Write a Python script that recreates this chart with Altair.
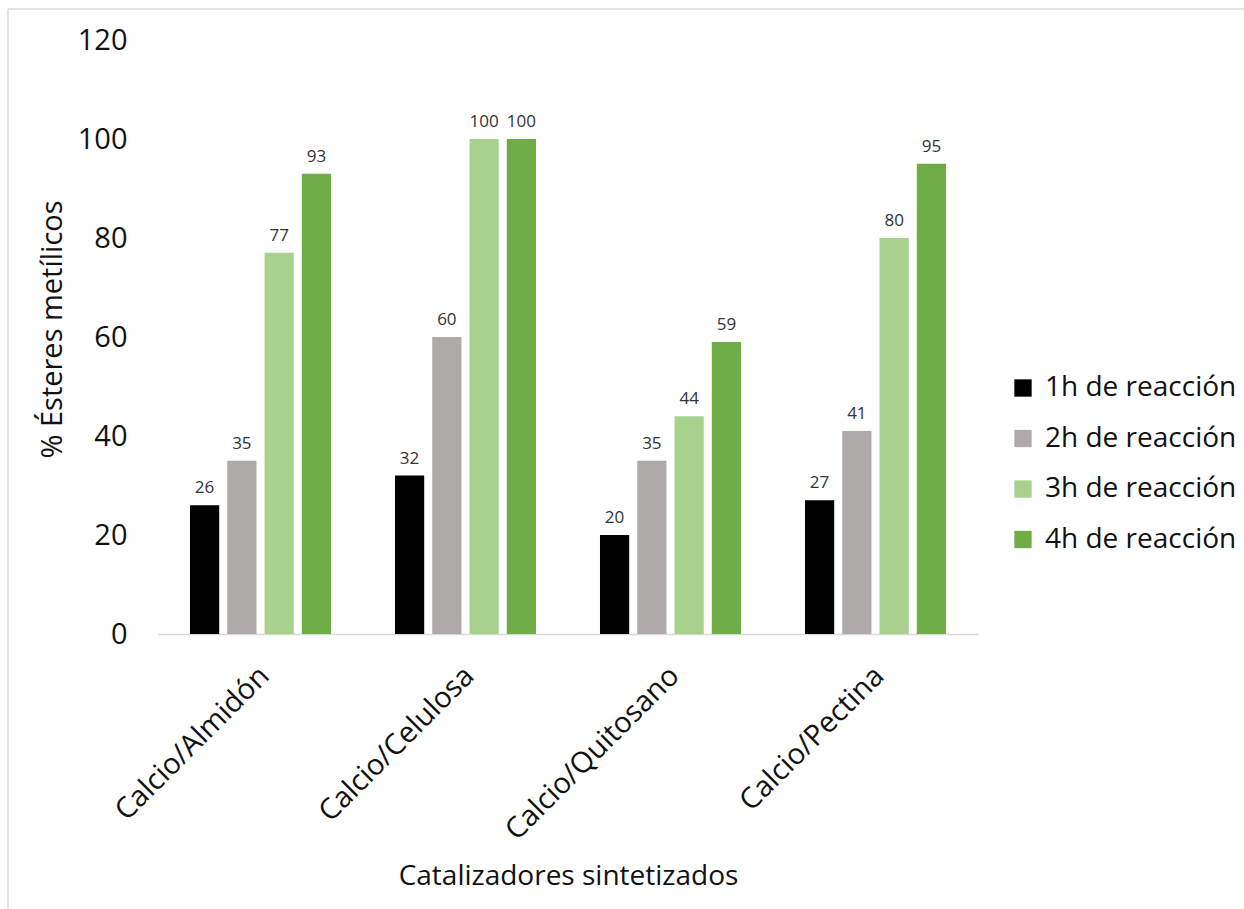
import altair as alt
import pandas as pd

# Catalysts and reaction times
categorias = ["Calcio/Almidón", "Calcio/Celulosa", "Calcio/Quitosano", "Calcio/Pectina"]
series = ["1h de reacción", "2h de reacción", "3h de reacción", "4h de reacción"]
colores = ["#000000", "#AEAAAA", "#A9D18E", "#70AD47"]

# % methyl esters per catalyst, one list per reaction time
valores_1h = [26, 32, 20, 27]
valores_2h = [35, 60, 35, 41]
valores_3h = [77, 100, 44, 80]
valores_4h = [93, 100, 59, 95]

y_ticks = [0, 20, 40, 60, 80, 100, 120]

rows = []
for serie, vals in zip(series, [valores_1h, valores_2h, valores_3h, valores_4h]):
    for cat, v in zip(categorias, vals):
        rows.append({"categoria": cat, "serie": serie, "valor": v})
df = pd.DataFrame(rows)

FONT = "Open Sans"
W, H = 820, 594
LEFT, TOP = 158, 40

base = alt.Chart(df).encode(
    x=alt.X(
        "categoria:N",
        sort=categorias,
        scale=alt.Scale(paddingInner=0.312, paddingOuter=0.156),
        axis=alt.Axis(
            title="Catalizadores sintetizados",
            titleFontSize=28,
            titleFont=FONT,
            titleFontWeight="normal",
            titleColor="#111111",
            titleY=242,
            titleBaseline="middle",
            labelAngle=-45,
            labelFontSize=29,
            labelFont=FONT,
            labelColor="#111111",
            labelPadding=27,
            labelOffset=-6,
            labelLimit=0,
            ticks=False,
            domainColor="#D9D9D9",
            domainWidth=1.5,
            grid=False,
        ),
    ),
    xOffset=alt.XOffset(
        "serie:N", sort=series, scale=alt.Scale(paddingInner=0.216, paddingOuter=0)
    ),
    y=alt.Y(
        "valor:Q",
        scale=alt.Scale(domain=[0, 120], nice=False),
        axis=alt.Axis(
            title="% Ésteres metílicos",
            titleFontSize=29,
            titleFont=FONT,
            titleFontWeight="normal",
            titleColor="#111111",
            titleX=-106,
            titleY=H / 2 - 8,
            titleAlign="center",
            titleBaseline="middle",
            values=y_ticks,
            labelFontSize=29,
            labelFont=FONT,
            labelColor="#111111",
            labelPadding=31,
            ticks=False,
            domain=False,
            grid=False,
        ),
    ),
)

bars = base.mark_bar().encode(
    color=alt.Color(
        "serie:N",
        sort=series,
        scale=alt.Scale(domain=series, range=colores),
        legend=alt.Legend(
            title=None,
            orient="none",
            legendX=851,
            legendY=334,
            symbolType="square",
            symbolSize=300,
            symbolStrokeWidth=0,
            labelFontSize=28,
            labelFont=FONT,
            labelColor="#111111",
            labelOffset=8,
            labelLimit=0,
            rowPadding=22.5,
        ),
    )
)

labels = base.mark_text(
    baseline="bottom", dy=-8, fontSize=17, font=FONT, color="#333333"
).encode(text="valor:Q")

# light frame along the top and left edges of the figure
frame_top = alt.Chart(pd.DataFrame({"k": [0]})).mark_rule(
    color="#D9D9D9", strokeWidth=1.5
).encode(x=alt.value(8 - LEFT), x2=alt.value(1244 - LEFT), y=alt.value(9 - TOP))
frame_left = alt.Chart(pd.DataFrame({"k": [0]})).mark_rule(
    color="#D9D9D9", strokeWidth=1.5
).encode(x=alt.value(8 - LEFT), y=alt.value(9 - TOP), y2=alt.value(909 - TOP))

chart = (
    alt.layer(frame_top, frame_left, bars, labels)
    .properties(
        width=W,
        height=H,
        autosize=alt.AutoSizeParams(type="none"),
        padding={"left": LEFT, "top": TOP, "right": 1244 - LEFT - W, "bottom": 909 - TOP - H},
        background="white",
    )
    .configure_view(stroke=None)
)

chart.save("out.html", embed_options={"renderer": "svg", "actions": False})
